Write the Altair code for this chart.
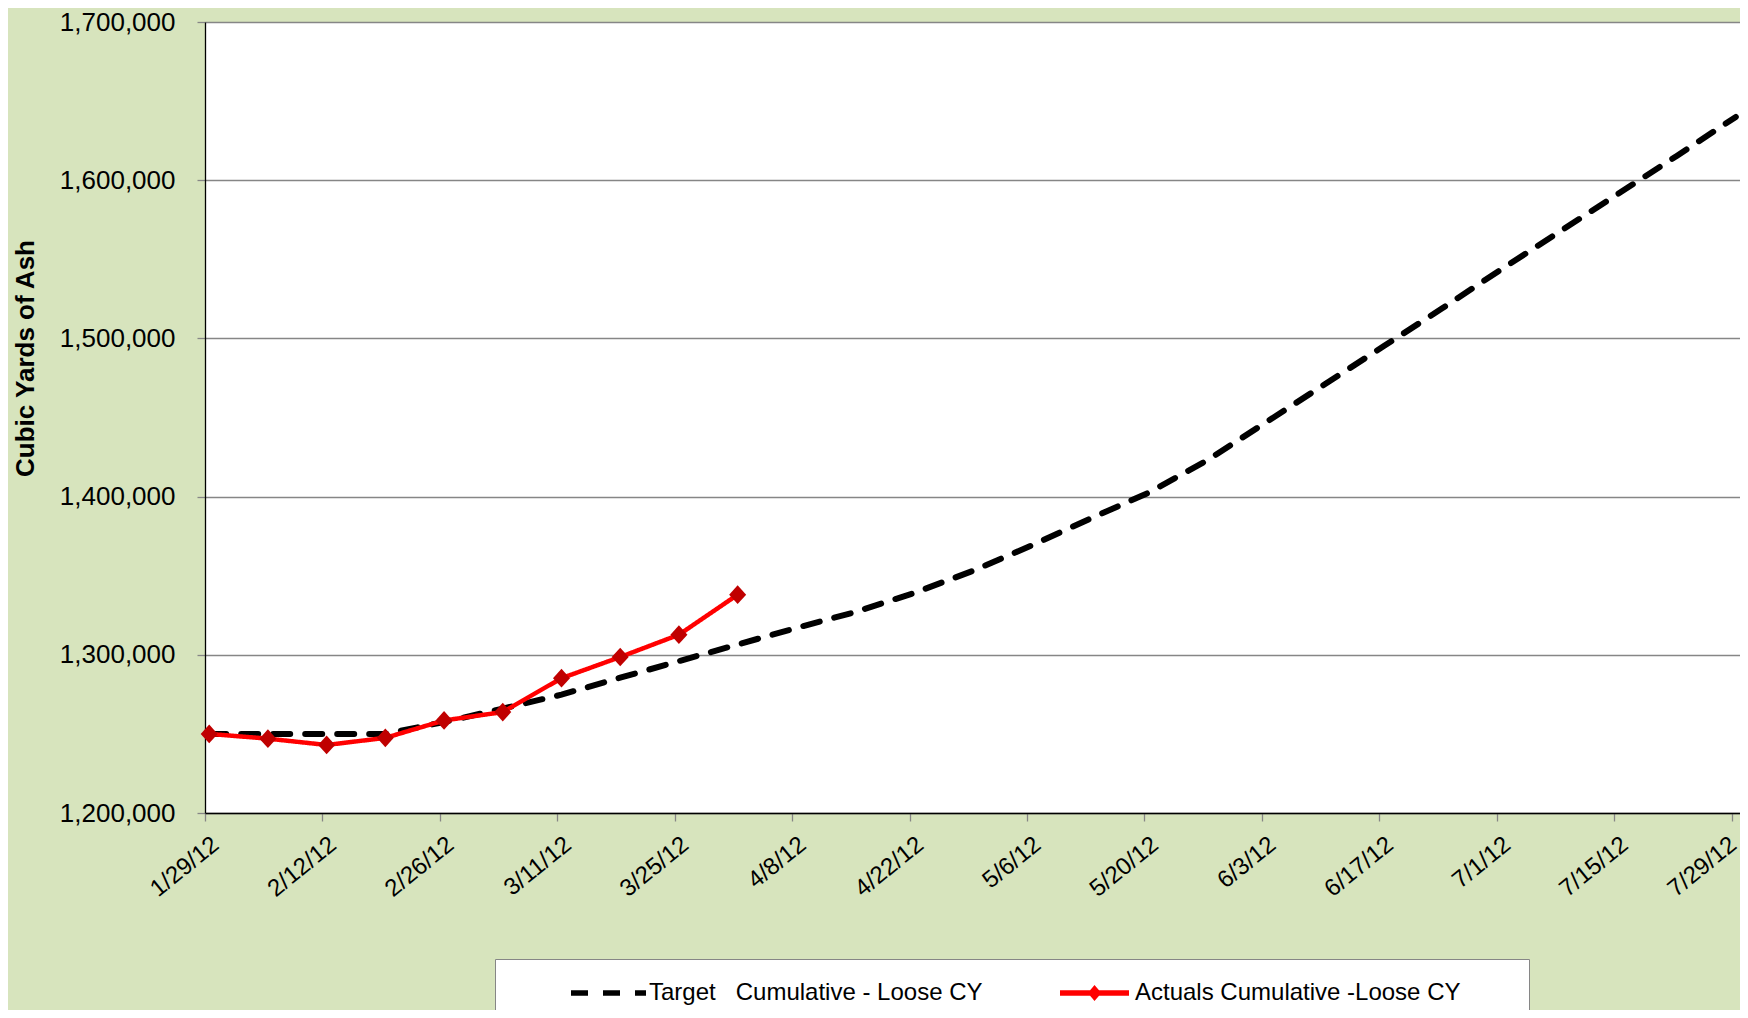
import altair as alt
import pandas as pd

TARGET_NAME = "Target\u00a0\u00a0\u00a0Cumulative - Loose CY"
ACTUAL_NAME = "Actuals Cumulative -Loose CY"

week_dates = [
    "2012-01-29", "2012-02-05", "2012-02-12", "2012-02-19", "2012-02-26",
    "2012-03-04", "2012-03-11", "2012-03-18", "2012-03-25", "2012-04-01",
    "2012-04-08", "2012-04-15", "2012-04-22", "2012-04-29", "2012-05-06",
    "2012-05-13", "2012-05-20", "2012-05-27", "2012-06-03", "2012-06-10",
    "2012-06-17", "2012-06-24", "2012-07-01", "2012-07-08", "2012-07-15",
    "2012-07-22", "2012-07-29",
]
target_values = [
    1250000, 1250000, 1250000, 1250000, 1257500,
    1266000, 1274800, 1285500, 1296000, 1306500,
    1317000, 1327000, 1339000, 1353000, 1369000,
    1386000, 1402500, 1423000, 1447000, 1471000,
    1495000, 1519000, 1543500, 1567500, 1591500,
    1615500, 1640000,
]
actual_dates = week_dates[:10]
actual_values = [
    1250000, 1247000, 1243000, 1247500, 1258500,
    1263800, 1285200, 1298600, 1312700, 1338000,
]
tick_dates = [
    (2012, 1, 29), (2012, 2, 12), (2012, 2, 26), (2012, 3, 11), (2012, 3, 25),
    (2012, 4, 8), (2012, 4, 22), (2012, 5, 6), (2012, 5, 20), (2012, 6, 3),
    (2012, 6, 17), (2012, 7, 1), (2012, 7, 15), (2012, 7, 29),
]
y_ticks = [1200000, 1300000, 1400000, 1500000, 1600000, 1700000]

df = pd.concat([
    pd.DataFrame({"date": week_dates, "value": target_values, "series": TARGET_NAME}),
    pd.DataFrame({"date": actual_dates, "value": actual_values, "series": ACTUAL_NAME}),
], ignore_index=True)

GRID = "#868686"
FONT = "Liberation Sans"
SERIES = [TARGET_NAME, ACTUAL_NAME]

x_enc = alt.X(
    "t:T",
    title=None,
    scale=alt.Scale(domain=[alt.DateTime(year=2012, month=1, date=29),
                            alt.DateTime(year=2012, month=7, date=30)]),
    axis=alt.Axis(
        values=[alt.DateTime(year=y, month=m, date=d) for (y, m, d) in tick_dates],
        format="%-m/%-d/%y", labelAngle=-39, labelAlign="right", labelBaseline="top",
        labelFontSize=24, labelFont=FONT, labelColor="#000000", labelPadding=11,
        labelOffset={"condition": {"test": "datum.index >= 0.999", "value": -6}, "value": 3},
        labelFlush=False, labelOverlap=False, labelBound=False,
        tickSize=8, tickColor=GRID, tickWidth=1.3, domainColor="#000000", domainWidth=1.5,
        grid=False,
    ),
)
y_enc = alt.Y(
    "value:Q",
    title="Cubic Yards of Ash",
    scale=alt.Scale(domain=[1200000, 1700000], nice=False, zero=False),
    axis=alt.Axis(
        values=y_ticks, format=",.0f", labelFontSize=26, labelFont=FONT, labelColor="#000000",
        labelPadding=22, tickSize=8, tickColor=GRID, tickWidth=1.3,
        domainColor="#000000", domainWidth=1.3, gridColor=GRID, gridWidth=1.3,
        titleFontSize=26, titleFont=FONT, titleFontWeight="bold", titleColor="#000000",
        titleX=-180, titleY=336, titleAlign="center", titleBaseline="middle",
    ),
)

act_symbol = "M-0.92,0L0.92,0M-0.085,0L0,-0.1L0.085,0L0,0.1Z"

legend = alt.Legend(
    title="\u00a0", titleOrient="right", titlePadding=48, titleFontSize=12,
    orient="none", legendX=290, legendY=937, direction="horizontal",
    fillColor="#FFFFFF", strokeColor=GRID, padding=21,
    symbolSize=5625, symbolStrokeWidth=5.5, symbolOpacity=1,
    symbolOffset=52, labelOffset=0, clipHeight=26, columnPadding=19,
    labelFontSize=24, labelFont=FONT, labelColor="#000000", labelLimit=800,
)

color_enc = alt.Color(
    "series:N",
    scale=alt.Scale(domain=SERIES, range=["#000000", "#FF0000"]),
    legend=legend,
)
dash_enc = alt.StrokeDash(
    "series:N",
    scale=alt.Scale(domain=SERIES, range=[[17, 15], [1, 0]]),
)
shape_enc = alt.Shape(
    "series:N",
    scale=alt.Scale(domain=SERIES, range=["stroke", act_symbol]),
)

base = alt.Chart(df).transform_calculate(
    t="timeOffset('hours', toDate(datum.date + 'T00:00:00'), 12)"
)

target_line = base.transform_filter(alt.datum.series != ACTUAL_NAME).mark_line(
    strokeWidth=6, strokeCap="round", opacity=1
).encode(x=x_enc, y=y_enc, color=color_enc, strokeDash=dash_enc)

actual_line = base.transform_filter(alt.datum.series == ACTUAL_NAME).mark_line(
    strokeWidth=4.5, strokeJoin="round", opacity=1
).encode(x=x_enc, y=y_enc, color=color_enc, strokeDash=dash_enc)

# carries the legend symbol shapes only (drawn at size 0)
legend_carrier = base.transform_filter(alt.datum.series == ACTUAL_NAME).mark_point(
    size=0, strokeWidth=0
).encode(x=x_enc, y=y_enc, shape=shape_enc)

actual_points = base.transform_filter(alt.datum.series == ACTUAL_NAME).mark_point(
    shape="M-0.91,0L0,-1L0.91,0L0,1Z", size=350, filled=True, fill="#C00000",
    strokeWidth=0, opacity=1,
).encode(x=x_enc, y=y_enc)

chart = alt.layer(target_line, actual_line, legend_carrier, actual_points).properties(
    width=1535, height=791,
    autosize=alt.AutoSizeParams(type="none"),
    padding={"left": 197, "top": 14, "right": 0, "bottom": 197},
).configure(
    background="#D7E4BD", font=FONT,
).configure_view(
    fill="#FFFFFF", stroke="transparent",
)

chart.save("out.html", embed_options={"renderer": "svg", "actions": False})
